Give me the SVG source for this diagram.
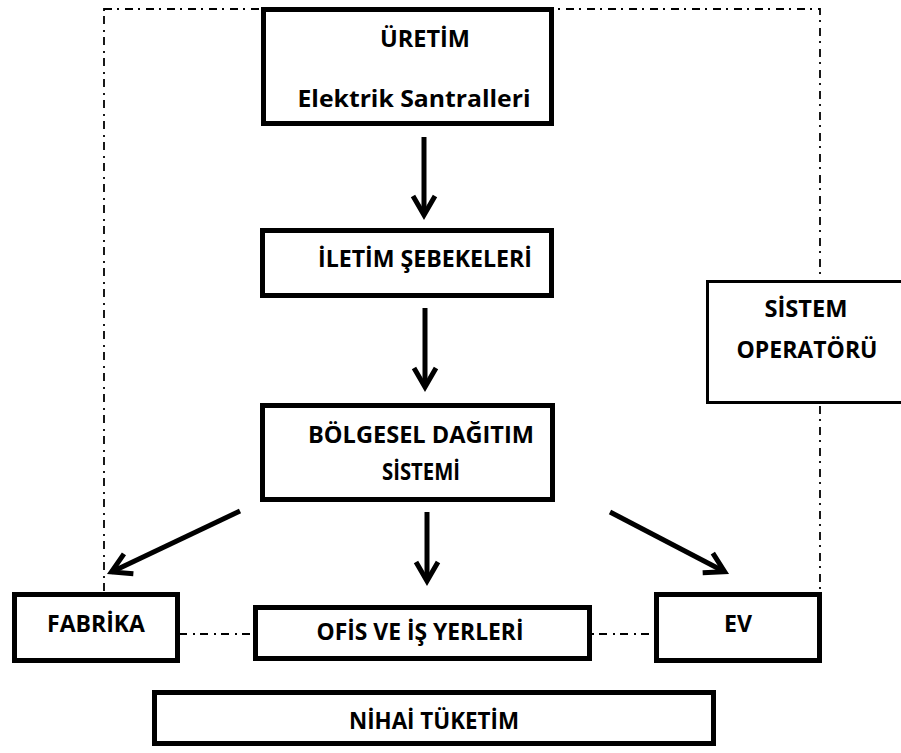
<svg xmlns="http://www.w3.org/2000/svg" width="901" height="753" viewBox="0 0 901 753">
  <style>
    .box { fill: #ffffff; stroke: #000000; stroke-width: 5; }
    .thin { fill: #ffffff; stroke: #000000; stroke-width: 3; }
    .lbl { font-family: "Open Sans", "Liberation Sans", sans-serif; font-weight: 700; font-size: 24px; fill: #000000; text-anchor: middle; }
    .frame { fill: none; stroke: #000000; stroke-width: 1.8; stroke-dasharray: 8 5 2 6; }
    .flow { fill: none; stroke: #000000; stroke-width: 5; marker-end: url(#head); }
  </style>
  <defs>
    <marker id="head" markerUnits="userSpaceOnUse" viewBox="-30 -20 40 40" refX="0" refY="0" markerWidth="40" markerHeight="40" orient="auto" overflow="visible">
      <path d="M-19,-11 L0,0 L-19,11" fill="none" stroke="#000000" stroke-width="5" stroke-linejoin="miter"/>
    </marker>
  </defs>

  <rect id="system-boundary" class="frame" x="104" y="9" width="716" height="625"/>

  <g id="connectors">
    <path class="flow" d="M424,137 L424,215"/>
    <path class="flow" d="M425,308 L425,387"/>
    <path class="flow" d="M427,512 L427,581"/>
    <path class="flow" d="M240,511 L111.5,571.9"/>
    <path class="flow" d="M610,512 L724.6,571.7"/>
  </g>

  <g id="uretim">
    <rect class="box" x="263.5" y="9.5" width="288" height="114"/>
    <text class="lbl" x="425" y="47" textLength="90" lengthAdjust="spacingAndGlyphs">ÜRETİM</text>
    <text class="lbl" x="414" y="107" textLength="233" lengthAdjust="spacingAndGlyphs">Elektrik Santralleri</text>
  </g>

  <g id="iletim">
    <rect class="box" x="262.5" y="230.5" width="289" height="65"/>
    <text class="lbl" x="425" y="267" textLength="214" lengthAdjust="spacingAndGlyphs">İLETİM ŞEBEKELERİ</text>
  </g>

  <g id="dagitim">
    <rect class="box" x="262.5" y="405.5" width="290" height="94"/>
    <text class="lbl" x="421" y="443" textLength="226" lengthAdjust="spacingAndGlyphs">BÖLGESEL DAĞITIM</text>
    <text class="lbl" x="421" y="480" textLength="78" lengthAdjust="spacingAndGlyphs">SİSTEMİ</text>
  </g>

  <g id="sistem-operatoru">
    <rect class="thin" x="707.5" y="281.5" width="200" height="121"/>
    <text class="lbl" x="806" y="317" textLength="83" lengthAdjust="spacingAndGlyphs">SİSTEM</text>
    <text class="lbl" x="807" y="358" textLength="141" lengthAdjust="spacingAndGlyphs">OPERATÖRÜ</text>
  </g>

  <g id="fabrika">
    <rect class="box" x="14.5" y="594.5" width="163" height="66"/>
    <text class="lbl" x="96" y="632" textLength="98" lengthAdjust="spacingAndGlyphs">FABRİKA</text>
  </g>

  <g id="ofis">
    <rect class="box" x="255.5" y="607.5" width="334" height="51"/>
    <text class="lbl" x="420" y="640" textLength="207" lengthAdjust="spacingAndGlyphs">OFİS VE İŞ YERLERİ</text>
  </g>

  <g id="ev">
    <rect class="box" x="656.5" y="594.5" width="163" height="66"/>
    <text class="lbl" x="738" y="632" textLength="28" lengthAdjust="spacingAndGlyphs">EV</text>
  </g>

  <g id="nihai-tuketim">
    <rect class="box" x="154.5" y="692.5" width="559" height="51"/>
    <text class="lbl" x="434" y="729" textLength="170" lengthAdjust="spacingAndGlyphs">NİHAİ TÜKETİM</text>
  </g>
</svg>
